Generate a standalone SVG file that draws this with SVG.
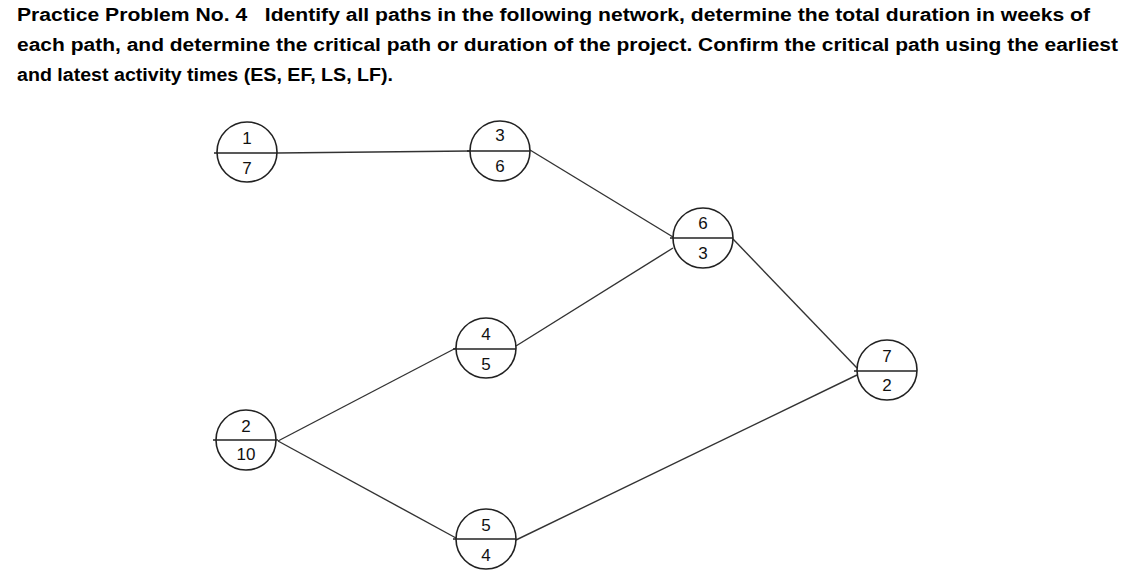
<svg xmlns="http://www.w3.org/2000/svg" width="1128" height="581" viewBox="0 0 1128 581">
<style>
.t{font-family:"Liberation Sans",Arial,sans-serif;font-weight:bold;font-size:18px;fill:#000;white-space:pre}
.n circle{fill:#fff;stroke:#222;stroke-width:1.6}
.n line{stroke:#222;stroke-width:1.6}
.n text{font-family:"Liberation Sans",Arial,sans-serif;font-size:17px;fill:#111;text-anchor:middle}
#edges line{stroke:#333;stroke-width:1.4}
</style>
<rect width="1128" height="581" fill="#fff"/>
<text class="t" x="17" y="21" textLength="1073" lengthAdjust="spacingAndGlyphs" xml:space="preserve">Practice Problem No. 4   Identify all paths in the following network, determine the total duration in weeks of</text>
<text class="t" x="17" y="51" textLength="1101" lengthAdjust="spacingAndGlyphs">each path, and determine the critical path or duration of the project. Confirm the critical path using the earliest</text>
<text class="t" x="17" y="81" textLength="376" lengthAdjust="spacingAndGlyphs">and latest activity times (ES, EF, LS, LF).</text>
<g id="edges">
<line x1="277" y1="153" x2="470" y2="151"/>
<line x1="530" y1="150" x2="673" y2="237"/>
<line x1="516" y1="346" x2="673" y2="248"/>
<line x1="733" y1="239" x2="857" y2="368"/>
<line x1="278" y1="441" x2="456" y2="348"/>
<line x1="278" y1="441" x2="456" y2="538"/>
<line x1="516" y1="540" x2="857" y2="375"/>
</g>
<g id="node1" class="n"><circle cx="247" cy="152" r="30"/><line x1="214" y1="153" x2="277" y2="153"/><text x="247" y="144">1</text><text x="247" y="174">7</text></g>
<g id="node3" class="n"><circle cx="500" cy="151" r="30"/><line x1="467" y1="151" x2="530" y2="151"/><text x="500" y="141">3</text><text x="500" y="172">6</text></g>
<g id="node6" class="n"><circle cx="703" cy="238" r="30"/><line x1="670" y1="238" x2="733" y2="238"/><text x="703" y="229">6</text><text x="703" y="259">3</text></g>
<g id="node4" class="n"><circle cx="486" cy="348" r="30"/><line x1="453" y1="349" x2="516" y2="349"/><text x="486" y="340">4</text><text x="486" y="370">5</text></g>
<g id="node7" class="n"><circle cx="887" cy="370" r="30"/><line x1="854" y1="371" x2="917" y2="371"/><text x="887" y="362">7</text><text x="887" y="391">2</text></g>
<g id="node2" class="n"><circle cx="246" cy="440" r="30"/><line x1="213" y1="440" x2="278" y2="440"/><text x="246" y="432">2</text><text x="246" y="460">10</text></g>
<g id="node5" class="n"><circle cx="486" cy="539" r="30"/><line x1="453" y1="539" x2="516" y2="539"/><text x="486" y="531">5</text><text x="486" y="561">4</text></g>
</svg>
